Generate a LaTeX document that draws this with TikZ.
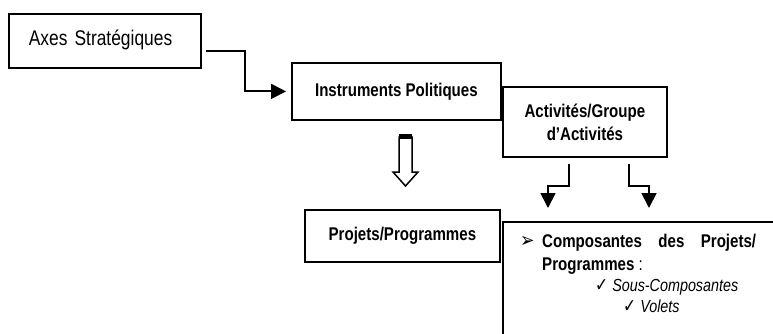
\documentclass[tikz,border=0pt]{standalone}
\usepackage{fontspec}
\setmainfont{Liberation Sans}[FakeStretch=0.82]
\newfontfamily\symfont{DejaVu Sans}[FakeStretch=0.82]
\usetikzlibrary{arrows.meta}
\begin{document}
\begin{tikzpicture}[x=1pt,y=-1pt,
  box/.style={draw, line width=1.8pt, inner sep=0pt, anchor=north west},
  reg/.style={font=\fontsize{21.2}{24}\selectfont},
  bld/.style={font=\fontsize{18.4}{22}\selectfont\bfseries},
  txt/.style={inner sep=0pt, anchor=base west, font=\fontsize{18.4}{22}\selectfont},
  arr/.style={-{Triangle[length=15pt,width=15pt]}, line width=1.8pt},
  hollow/.style={draw, line width=1.5pt, fill=white}]
\path[use as bounding box] (0,0) rectangle (773,334);
\clip (0,0) rectangle (773,334);
% boxes
\node[box, reg, minimum width=192pt, minimum height=54pt, text width=152pt, inner xsep=20pt, align=left] (axes) at (8,13) {Axes Stratégiques\vphantom{Ap}\raisebox{0pt}[0pt][6pt]{}};
\node[box, bld, minimum width=209pt, minimum height=57pt] (ins) at (291,62) {Instruments Politiques\raisebox{0pt}[0pt][4pt]{}};
\node[box, bld, minimum width=164pt, minimum height=70pt, align=center] (act) at (502,86) {Activités/Groupe\\[1pt]d’Activités};
\node[box, bld, minimum width=195pt, minimum height=52pt] (proj) at (304,209) {Projets/Programmes};
\node[box, minimum width=300pt, minimum height=150pt] (comp) at (502,221) {};
% text of the last box
\node[txt, font=\fontsize{21}{22}\selectfont\symfont] (b1) at (520,247) {➢};
\node[txt] (t1) at (542,247) {\bfseries\makebox[214pt][s]{Composantes des Projets/}};
\node[txt] (t2) at (542,270) {\textbf{Programmes} :};
\node[txt, font=\fontsize{17.5}{20}\selectfont] (t3) at (595,291) {{\symfont\fontsize{19}{20}\selectfont ✓} \textit{Sous-Composantes}};
\node[txt, font=\fontsize{17.5}{20}\selectfont] (t4) at (623,312) {{\symfont\fontsize{19}{20}\selectfont ✓} \textit{Volets}};
% connector Axes -> Instruments
\coordinate (a1) at ([xshift=4pt]axes.east |- 0,51);
\coordinate (a2) at ([xshift=-5pt]ins.west);
\draw[arr] (a1) -- (245,51) |- (a2);
% hollow arrow Instruments -> Projets
\coordinate (h0) at (405.5,137);
\draw[hollow] (399,137) -- (399,172) -- (393,172) -- (405.5,186) -- (418,172) -- (412,172) -- (412,137) -- cycle;
\fill (399,134) rectangle (412,138.5);
% arrows Activités -> Composantes
\coordinate (c1) at (569,164);
\coordinate (c2) at (629,164);
\coordinate (d1) at (548,208);
\coordinate (d2) at (649,208);
\draw[arr] (c1) -- (569,186) -| (d1);
\draw[arr] (c2) -- (629,186) -| (d2);
\end{tikzpicture}
\end{document}
